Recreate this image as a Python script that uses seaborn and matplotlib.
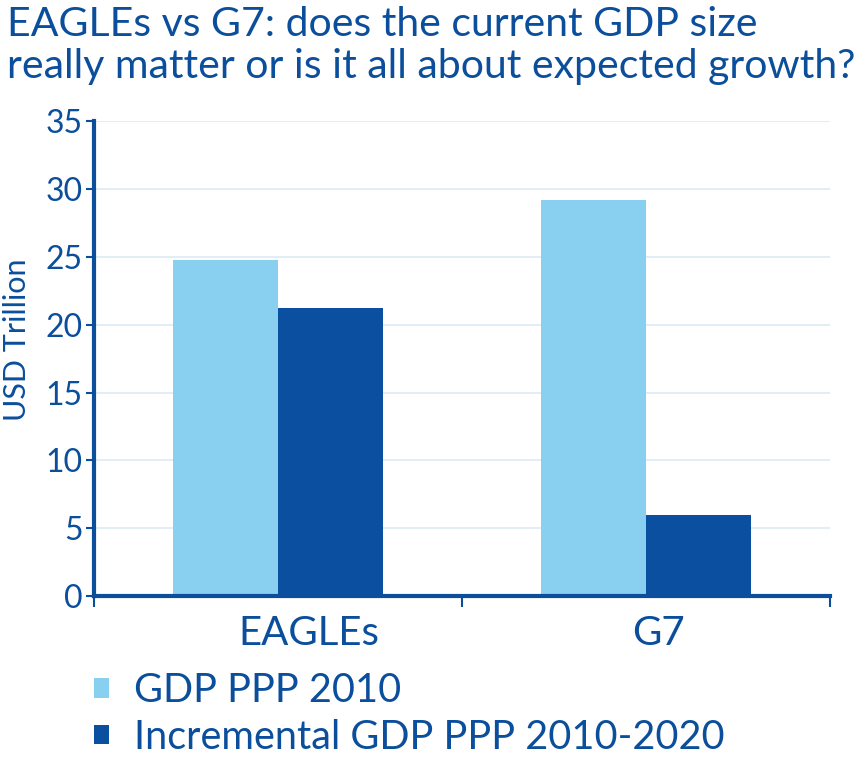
import pandas as pd
import matplotlib.pyplot as plt
import matplotlib.transforms as mtransforms
import seaborn as sns
from matplotlib.patches import Patch

# values (USD trillion)
groups = ["EAGLEs", "G7"]
series = ["GDP PPP 2010", "Incremental GDP PPP 2010-2020"]
gdp_2010 = [24.8, 29.2]
incr_2010_2020 = [21.2, 6.0]
y_ticks = [0, 5, 10, 15, 20, 25, 30, 35]

light = "#89CFF0"
dark = "#0A4FA0"
navy = "#0B4F9C"

df = pd.DataFrame({
    "group": groups * 2,
    "series": [series[0]] * 2 + [series[1]] * 2,
    "value": gdp_2010 + incr_2010_2020,
})

sns.set_theme(style="white")
plt.rcParams["font.family"] = ["Lato", "DejaVu Sans"]

fig = plt.figure(figsize=(8.62, 7.68), dpi=100)
ax = fig.add_axes([0.109, 0.224, 0.854, 0.618])

sns.barplot(data=df, x="group", y="value", hue="series", order=groups,
            hue_order=series, palette=[light, dark], width=0.57,
            saturation=1, linewidth=0, ax=ax, legend=False)

ax.set_xlim(-0.5, 1.5)
ax.set_ylim(0, 35)
ax.set_yticks(y_ticks)
ax.yaxis.grid(True, color="#DCEBF5", linewidth=1.2)
ax.set_axisbelow(True)

for side in ["top", "right"]:
    ax.spines[side].set_visible(False)
for side in ["left", "bottom"]:
    ax.spines[side].set_color(navy)
    ax.spines[side].set_linewidth(3)

# category boundary ticks below the x axis
ax.set_xticks([-0.5, 0.5, 1.5], minor=True)
ax.tick_params(axis="x", which="minor", bottom=True, length=8, width=1.5,
               color=navy, direction="out")
ax.tick_params(axis="x", which="major", bottom=False, labelsize=29,
               labelcolor=navy, pad=8)
ax.tick_params(axis="y", left=True, length=6, width=1.5, color=navy,
               labelsize=23, labelcolor=navy, pad=2)

# the category labels sit a little right of the group centres in the original
for lbl, dx in zip(ax.get_xticklabels(), [0.31, 0.12]):
    lbl.set_transform(lbl.get_transform()
                      + mtransforms.ScaledTranslation(dx, 0, fig.dpi_scale_trans))

ax.set_xlabel("")
ax.set_ylabel("USD Trillion", fontsize=22, color=navy)
ax.yaxis.set_label_coords(-0.086, 0.54)

fig.text(0.008, 0.992, "EAGLEs vs G7: does the current GDP size\n"
         "really matter or is it all about expected growth?",
         ha="left", va="top", fontsize=29.5, color=navy, linespacing=1.17)

handles = [Patch(facecolor=light, edgecolor="none"),
           Patch(facecolor=dark, edgecolor="none")]
fig.legend(handles, series, loc="upper left", bbox_to_anchor=(0.109, 0.125),
           frameon=False, fontsize=28.5, labelcolor=navy, handlelength=0.38,
           handleheight=0.38, handletextpad=0.62, labelspacing=0.25,
           borderaxespad=0, borderpad=0)

fig.savefig("out.png", dpi=100)
